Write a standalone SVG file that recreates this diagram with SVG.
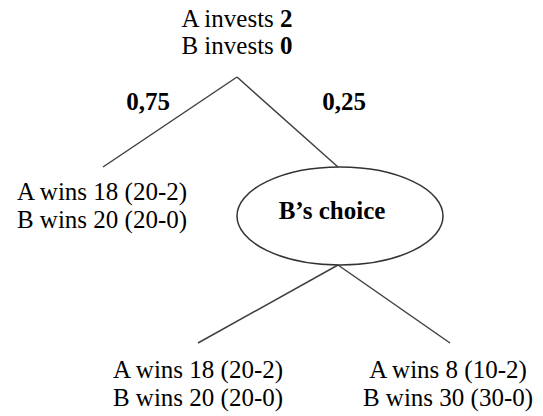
<svg xmlns="http://www.w3.org/2000/svg" width="543" height="416" viewBox="0 0 543 416">
<style>
.t{font-family:'Liberation Serif','DejaVu Serif',serif;font-size:25px;fill:#000;text-anchor:middle}
.b{font-weight:bold}
.edge{stroke:#404040;stroke-width:1.5;fill:none}
</style>
<rect width="543" height="416" fill="#fff"/>
<g id="connectors">
<line class="edge" x1="237" y1="77" x2="103" y2="167"/>
<line class="edge" x1="237" y1="77" x2="338" y2="167"/>
<line class="edge" x1="338" y1="265" x2="198" y2="343"/>
<line class="edge" x1="338" y1="265" x2="450" y2="343"/>
</g>
<g id="root">
<text class="t" x="237" y="27" font-family="Liberation Serif, serif">A invests <tspan class="b">2</tspan></text>
<text class="t" x="237" y="54" font-family="Liberation Serif, serif">B invests <tspan class="b">0</tspan></text>
</g>
<g id="prob-left"><text class="t b" x="148" y="110" font-family="Liberation Serif, serif">0,75</text></g>
<g id="prob-right"><text class="t b" x="344" y="110" font-family="Liberation Serif, serif">0,25</text></g>
<g id="leaf-left">
<text class="t" x="102" y="200" font-family="Liberation Serif, serif">A wins 18 (20-2)</text>
<text class="t" x="102" y="228" font-family="Liberation Serif, serif">B wins 20 (20-0)</text>
</g>
<g id="choice">
<ellipse cx="340" cy="216" rx="103" ry="49" fill="#fff" stroke="#333" stroke-width="1.5"/>
<text class="t b" x="332" y="219" font-family="Liberation Serif, serif">B’s choice</text>
</g>
<g id="leaf-bottom-left">
<text class="t" x="198" y="378" font-family="Liberation Serif, serif">A wins 18 (20-2)</text>
<text class="t" x="198" y="406" font-family="Liberation Serif, serif">B wins 20 (20-0)</text>
</g>
<g id="leaf-bottom-right">
<text class="t" x="448" y="378" font-family="Liberation Serif, serif">A wins 8 (10-2)</text>
<text class="t" x="448" y="406" font-family="Liberation Serif, serif">B wins 30 (30-0)</text>
</g>
</svg>
